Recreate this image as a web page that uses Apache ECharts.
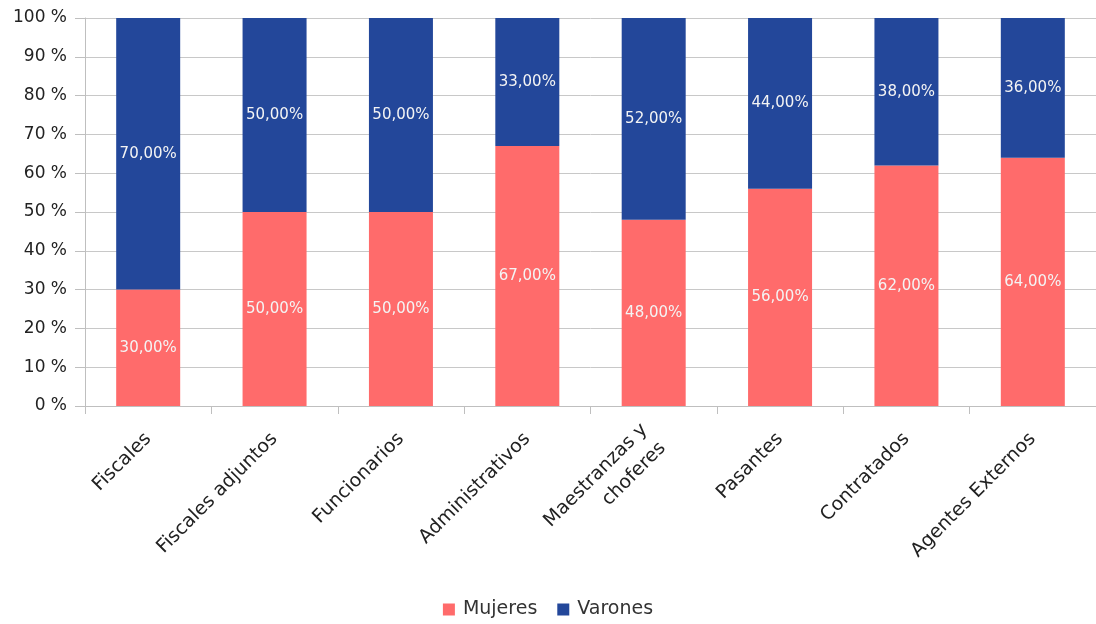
<!DOCTYPE html>
<html><head><meta charset="utf-8">
<script src="https://cdn.jsdelivr.net/npm/echarts@6/dist/echarts.min.js"></script>
<style>html,body{margin:0;padding:0;background:#fff}#c{width:1096px;height:624px}</style>
</head><body><div id="c"></div>
<script>
const categories = ['Fiscales','Fiscales adjuntos','Funcionarios','Administrativos','Maestranzas y\nchoferes','Pasantes','Contratados','Agentes Externos'];
const mujeres = [30, 50, 50, 67, 48, 56, 62, 64];
const varones = [70, 50, 50, 33, 52, 44, 38, 36];
const yTicks = [0,10,20,30,40,50,60,70,80,90,100];

const FONT = 'DejaVu Sans';
const chart = echarts.init(document.getElementById('c'));
const lbl = {
  show: true, position: 'inside', color: '#f4f4f4', fontFamily: FONT, fontSize: 15,
  formatter: p => p.value.toFixed(2).replace('.', ',') + '%'
};
chart.setOption({
  animation: false,
  textStyle: { fontFamily: FONT },
  legend: {
    bottom: 0, left: 'center', itemWidth: 12, itemHeight: 12, itemGap: 20,
    icon: 'rect',
    textStyle: { fontFamily: FONT, fontSize: 19, color: '#333', padding: [0, 0, 0, 3] },
    data: ['Mujeres', 'Varones']
  },
  grid: { left: 85, top: 18, width: 1015, height: 388 },
  xAxis: {
    type: 'category', data: categories,
    axisLine: { lineStyle: { color: '#bfbfbf' } },
    axisTick: { show: true, alignWithLabel: false, length: 8, lineStyle: { color: '#bfbfbf' } },
    axisLabel: { rotate: 45, interval: 0, fontFamily: FONT, fontSize: 19, color: '#222', margin: 30, lineHeight: 26 }
  },
  yAxis: {
    type: 'value', min: 0, max: 100, interval: 10,
    axisLine: { show: true, lineStyle: { color: '#bfbfbf' } },
    axisTick: { show: true, length: 10, lineStyle: { color: '#bfbfbf' } },
    splitLine: { lineStyle: { color: '#c8c8c8' } },
    axisLabel: { fontFamily: FONT, fontSize: 17, color: '#222', margin: 18,
      formatter: v => yTicks.includes(v) ? v + ' %' : '' }
  },
  series: [
    { name: 'Mujeres', type: 'bar', stack: 't', data: mujeres, barWidth: 64,
      itemStyle: { color: '#FF6B6B' }, label: lbl },
    { name: 'Varones', type: 'bar', stack: 't', data: varones, barWidth: 64,
      itemStyle: { color: '#23479A' }, label: lbl }
  ]
});
</script></body></html>
